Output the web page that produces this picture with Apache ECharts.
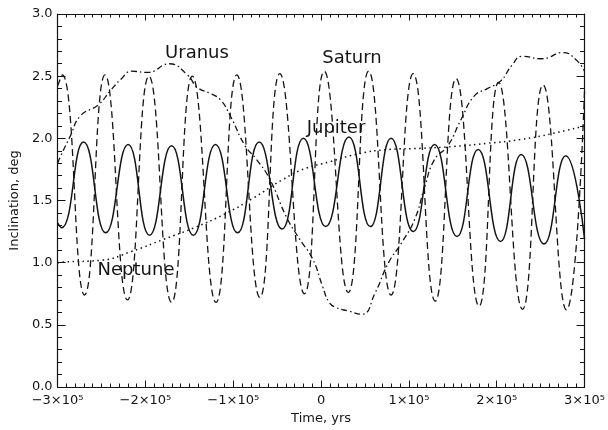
<!DOCTYPE html>
<html>
<head>
<meta charset="utf-8">
<script src="https://cdn.jsdelivr.net/npm/echarts@6/dist/echarts.min.js"></script>
<style>
  html, body { margin: 0; padding: 0; background: #fff; }
  #chart { width: 608px; height: 430px; }
</style>
</head>
<body>
<div id="chart"></div>
<script>
// Jupiter (solid): peaks and troughs
var jupiterTime = [-300000, -295500, -270400, -245200, -219700, -195300, -170200, -145400, -120200, -95100, -70400, -44500, -20100, 5400, 31700, 56100, 79700, 105000, 129200, 154800, 178800, 204300, 227900, 253800, 278600, 300000]
var jupiterIncl = [1.32, 1.28, 1.97, 1.24, 1.95, 1.22, 1.94, 1.22, 1.95, 1.24, 1.97, 1.27, 2.00, 1.29, 2.01, 1.29, 2.00, 1.25, 1.95, 1.21, 1.91, 1.17, 1.87, 1.15, 1.86, 1.19]

// Saturn (dashed)
var saturnTime = [-300000, -294700, -269300, -246000, -220400, -196000, -170200, -146600, -119600, -95900, -69600, -47000, -18900, 3600, 31000, 54200, 79700, 104900, 130000, 153700, 179900, 202100, 229400, 252700, 279400, 300000]
var saturnIncl = [2.42, 2.51, 0.74, 2.51, 0.70, 2.50, 0.68, 2.50, 0.68, 2.51, 0.72, 2.52, 0.75, 2.54, 0.76, 2.54, 0.74, 2.52, 0.69, 2.48, 0.65, 2.45, 0.625, 2.43, 0.62, 2.38]

// Uranus (dash-dot)
var uranusTime = [-300000, -296600, -285400, -274100, -253500, -240300, -227200, -215900, -197200, -172800, -152200, -140900, -125900, -114600, -103300, -86500, -73400, -58300, -39600, -24500, -9600, 1700, 9200, 16700, 31700, 46700, 61700, 76800, 91700, 106700, 118000, 129200, 144300, 159300, 174300, 189300, 204300, 217500, 228700, 251200, 275600, 290600, 300000]
var uranusIncl = [1.80, 1.855, 2.02, 2.18, 2.27, 2.38, 2.48, 2.54, 2.53, 2.60, 2.51, 2.41, 2.36, 2.31, 2.18, 1.94, 1.83, 1.67, 1.37, 1.19, 1.03, 0.81, 0.68, 0.64, 0.61, 0.585, 0.76, 1.00, 1.16, 1.35, 1.61, 1.83, 1.94, 2.15, 2.34, 2.40, 2.46, 2.59, 2.66, 2.64, 2.69, 2.63, 2.54]

// Neptune (dotted)
var neptuneTime = [-300000, -294700, -249700, -215900, -178400, -144700, -107200, -77100, -43300, -17100, 9200, 39200, 76800, 114300, 151700, 189300, 226800, 264300, 300000]
var neptuneIncl = [1.0, 1.005, 1.02, 1.09, 1.19, 1.28, 1.40, 1.52, 1.67, 1.76, 1.81, 1.87, 1.91, 1.92, 1.935, 1.96, 1.99, 2.04, 2.10]

var ink = '#141414'
var font = 'DejaVu Sans'

function pairs(t, v) {
  return t.map(function (x, i) { return [x, v[i]] })
}

function timeLabel(v) {
  if (v === 0) return '0'
  var n = Math.round(v / 100000)
  return (n < 0 ? '\u2212' : '') + Math.abs(n) + '\u00d710\u2075'
}

function frameAxis(pos, isX) {
  var ax = {
    type: 'value',
    position: pos,
    min: isX ? -300000 : 0,
    max: isX ? 300000 : 3,
    interval: isX ? 100000 : 0.5,
    axisLine: { show: true, onZero: false, lineStyle: { color: ink, width: 1.2 } },
    axisTick: { show: true, inside: true, length: isX ? 6.5 : 8, lineStyle: { color: ink, width: 1 } },
    minorTick: { show: true, splitNumber: isX ? 10 : 5, length: isX ? 3.5 : 4.5, lineStyle: { color: ink, width: 1 } },
    splitLine: { show: false },
    axisLabel: { show: false }
  }
  return ax
}

var chart = echarts.init(document.getElementById('chart'))

var xBottom = frameAxis('bottom', true)
xBottom.axisLabel = { show: true, margin: 7, color: ink, fontFamily: font, fontSize: 13, formatter: timeLabel }
xBottom.name = 'Time, yrs'
xBottom.nameLocation = 'middle'
xBottom.nameGap = 25
xBottom.nameTextStyle = { color: ink, fontFamily: font, fontSize: 13 }

var yLeft = frameAxis('left', false)
yLeft.axisLabel = { show: true, margin: 5, color: ink, fontFamily: font, fontSize: 13, formatter: function (v) { return v.toFixed(1) } }
yLeft.name = 'Inclination, deg'
yLeft.nameLocation = 'middle'
yLeft.nameGap = 31
yLeft.nameTextStyle = { color: ink, fontFamily: font, fontSize: 13 }

function lineSeries(name, data, type, width) {
  return {
    name: name,
    type: 'line',
    xAxisIndex: 0,
    yAxisIndex: 0,
    data: data,
    showSymbol: false,
    symbol: 'none',
    smooth: 0.5,
    lineStyle: { color: ink, width: width, type: type, cap: 'butt' },
    silent: true
  }
}

function note(text, x, y) {
  return {
    type: 'text',
    x: x,
    y: y,
    style: {
      text: text,
      fill: ink,
      font: 'normal 18px "DejaVu Sans"',
      textAlign: 'center',
      textVerticalAlign: 'middle',
      align: 'center',
      verticalAlign: 'middle'
    }
  }
}

chart.setOption({
  animation: false,
  backgroundColor: '#fff',
  grid: { left: 52, right: 22, top: 14, bottom: 42 },
  xAxis: [xBottom, frameAxis('top', true)],
  yAxis: [yLeft, frameAxis('right', false)],
  series: [
    lineSeries('Jupiter', pairs(jupiterTime, jupiterIncl), 'solid', 1.5),
    lineSeries('Saturn', pairs(saturnTime, saturnIncl), [7, 4], 1.3),
    lineSeries('Uranus', pairs(uranusTime, uranusIncl), [6, 3, 1.5, 3], 1.3),
    lineSeries('Neptune', pairs(neptuneTime, neptuneIncl), [1.5, 3.5], 1.5)
  ],
  graphic: [
    note('Uranus', 197, 53),
    note('Saturn', 352, 58),
    note('Jupiter', 336, 128),
    note('Neptune', 136, 270)
  ]
})
</script>
</body>
</html>
